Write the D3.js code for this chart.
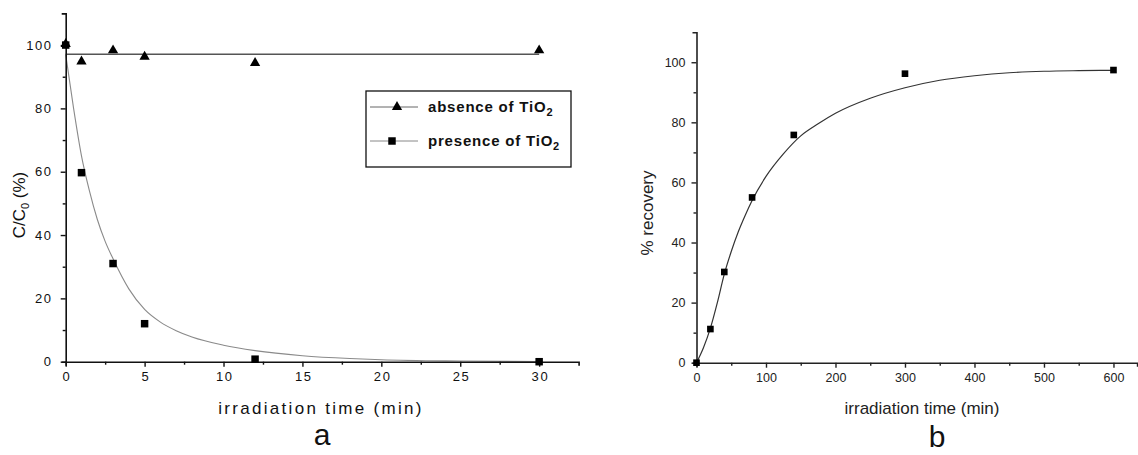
<!DOCTYPE html>
<html>
<head>
<meta charset="utf-8">
<script src="https://cdn.jsdelivr.net/npm/d3@7"></script>
<style>
    body { margin: 0; background: #fff; }
    text { font-family: "Liberation Sans", Arial, sans-serif; }
</style>
</head>
<body>
<svg id="chart" width="1138" height="455"></svg>
<script>
// panel a: decay of C/C0
const absenceTime = [0, 1, 3, 5, 12, 30];
const absenceC = [100, 94.5, 98, 96, 94, 98];
const presenceTime = [0, 1, 3, 5, 12, 30];
const presenceC = [100, 59.7, 31, 12, 0.8, 0];
const absenceFitTime = [0, 30];
const absenceFitC = [97.1, 97.1];
const presenceFitTime = [0, 0.5, 1, 1.5, 2, 2.5, 3, 4, 5, 6, 7, 8, 10, 12, 15, 18, 20, 25, 30];
const presenceFitC = [97, 80, 65, 54, 45, 38, 32.5, 23, 16.5, 12.5, 9.8, 7.8, 5.2, 3.5, 1.9, 1.0, 0.6, 0.2, 0.05];
const aXTicks = [0, 5, 10, 15, 20, 25, 30];
const aXMinor = [2.5, 7.5, 12.5, 17.5, 22.5, 27.5];
const aYTicks = [0, 20, 40, 60, 80, 100];
const aYMinor = [10, 30, 50, 70, 90];

// panel b: recovery
const recoveryTime = [0, 20, 40, 80, 140, 300, 600];
const recoveryPct = [0, 11.2, 30.2, 55, 75.8, 96.2, 97.4];
const recoveryFitTime = [0, 10, 20, 30, 40, 50, 60, 70, 80, 100, 125, 150, 175, 200, 250, 300, 350, 400, 450, 500, 550, 600];
const recoveryFitPct = [0, 5, 11.5, 20, 29.5, 37, 43.5, 49, 54, 62, 69.5, 75.5, 79.5, 83, 88, 91.5, 94, 95.5, 96.5, 97, 97.2, 97.3];
const bXTicks = [0, 100, 200, 300, 400, 500, 600];
const bXMinor = [50, 150, 250, 350, 450, 550];
const bYTicks = [0, 20, 40, 60, 80, 100];
const bYMinor = [10, 30, 50, 70, 90];

const drawAxes = (g, xScale, yScale, opt)=>{
    let height = yScale.range()[0];

    let xAxis = d3.axisBottom(xScale).tickValues(opt.xTicks).tickSize(5).tickSizeOuter(4).tickPadding(5);
    let xMinor = d3.axisBottom(xScale).tickValues(opt.xMinor).tickSize(3).tickFormat("");
    let yAxis = d3.axisLeft(yScale).tickValues(opt.yTicks).tickSize(5).tickSizeOuter(4).tickPadding(opt.yPad);
    let yMinor = d3.axisLeft(yScale).tickValues(opt.yMinor).tickSize(3).tickFormat("");

    let gx = g.append("g").attr("transform", "translate(0," + height + ")").call(xAxis);
    g.append("g").attr("transform", "translate(0," + height + ")").call(xMinor).select(".domain").remove();
    let gy = g.append("g").call(yAxis);
    g.append("g").call(yMinor).select(".domain").remove();

    g.selectAll(".domain").attr("stroke", opt.color).attr("stroke-width", 1.6);
    g.selectAll(".tick line").attr("stroke", opt.color).attr("stroke-width", 1.4);

    [gx, gy].forEach((a)=>{
        a.selectAll("text")
        .attr("font-size", opt.fontSize)
        .attr("fill", opt.color)
        .style("font-family", "'Liberation Sans', Arial, sans-serif")
        .style("letter-spacing", opt.spacing + "px");
    })
    gx.selectAll("text").attr("dx", (opt.spacing / 2) + "px");
}

const drawPanelA = ()=>{
    let svg = d3.select("#chart");
    let margin = { top: 13.4, left: 65.7 };
    let width = 512.9;
    let height = 348.3;

    let g = svg.append("g").attr("transform", "translate(" + margin.left + "," + margin.top + ")");

    let xScale = d3.scaleLinear().domain([0, 32.5]).range([0, width]);
    let yScale = d3.scaleLinear().domain([0, 110]).range([height, 0]);

    let line = d3.line()
    .x((d)=>xScale(d[0]))
    .y((d)=>yScale(d[1]))
    .curve(d3.curveMonotoneX);

    g.append("path")
    .datum(presenceFitTime.map((t, i)=>[t, presenceFitC[i]]))
    .attr("fill", "none")
    .attr("stroke", "#8a8a8a")
    .attr("stroke-width", 1.1)
    .attr("d", line);

    g.append("path")
    .datum(absenceFitTime.map((t, i)=>[t, absenceFitC[i]]))
    .attr("fill", "none")
    .attr("stroke", "#555")
    .attr("stroke-width", 1.4)
    .attr("d", line);

    drawAxes(g, xScale, yScale, {
        xTicks: aXTicks, xMinor: aXMinor, yTicks: aYTicks, yMinor: aYMinor,
        color: "#111", fontSize: "13px", spacing: 1.6, yPad: 8
    });

    let tri = d3.symbol().type(d3.symbolTriangle).size(46);
    let sq = d3.symbol().type(d3.symbolSquare).size(56);

    g.selectAll(".sq")
    .data(presenceTime.map((t, i)=>[t, presenceC[i]]))
    .enter().append("path")
    .attr("class", "sq")
    .attr("d", sq)
    .attr("fill", "#000")
    .attr("transform", (d)=>"translate(" + xScale(d[0]) + "," + yScale(d[1]) + ")");

    g.selectAll(".tri")
    .data(absenceTime.map((t, i)=>[t, absenceC[i]]))
    .enter().append("path")
    .attr("class", "tri")
    .attr("d", tri)
    .attr("fill", "#000")
    .attr("transform", (d)=>"translate(" + xScale(d[0]) + "," + (yScale(d[1]) - 1) + ")");

    // legend
    let lg = svg.append("g").attr("transform", "translate(366,91)");
    lg.append("rect")
    .attr("width", 205).attr("height", 76)
    .attr("fill", "#fff").attr("stroke", "#111").attr("stroke-width", 1.3);

    let entries = [
        { label: "absence of TiO", sym: tri, y: 16, stroke: "#666", mx: 31 },
        { label: "presence of TiO", sym: sq, y: 50, stroke: "#888", mx: 26 }
    ];
    entries.forEach((e)=>{
        lg.append("line")
        .attr("x1", 4).attr("x2", 52).attr("y1", e.y).attr("y2", e.y)
        .attr("stroke", e.stroke).attr("stroke-width", 1);
        lg.append("path")
        .attr("d", e.sym)
        .attr("fill", "#000")
        .attr("transform", "translate(" + e.mx + "," + e.y + ")");
        let t = lg.append("text")
        .attr("x", 62).attr("y", e.y + 5)
        .attr("font-size", "15px")
        .attr("font-weight", "bold")
        .style("letter-spacing", "0.8px")
        .attr("fill", "#111")
        .text(e.label);
        t.append("tspan").attr("dy", 4).attr("font-size", "11px").text("2");
    })

    svg.append("text")
    .attr("x", 321).attr("y", 414)
    .attr("text-anchor", "middle")
    .attr("font-size", "17px")
    .style("letter-spacing", "2.3px")
    .attr("fill", "#111")
    .text("irradiation time (min)");

    let yl = svg.append("text")
    .attr("transform", "translate(25,205) rotate(-90)")
    .attr("text-anchor", "middle")
    .attr("font-size", "17px")
    .attr("fill", "#111");
    yl.append("tspan").text("C/C");
    yl.append("tspan").attr("dy", 4).attr("font-size", "11px").text("0");
    yl.append("tspan").attr("dy", -4).text(" (%)");

    svg.append("text")
    .attr("x", 322).attr("y", 445)
    .attr("text-anchor", "middle")
    .attr("font-size", "30px")
    .attr("fill", "#111")
    .text("a");
}

const drawPanelB = ()=>{
    let svg = d3.select("#chart");
    let margin = { top: 32.2, left: 696.5 };
    let width = 440.6;
    let height = 330.5;

    let g = svg.append("g").attr("transform", "translate(" + margin.left + "," + margin.top + ")");

    let xScale = d3.scaleLinear().domain([0, 634]).range([0, width]);
    let yScale = d3.scaleLinear().domain([0, 110]).range([height, 0]);

    let line = d3.line()
    .x((d)=>xScale(d[0]))
    .y((d)=>yScale(d[1]))
    .curve(d3.curveMonotoneX);

    g.append("path")
    .datum(recoveryFitTime.map((t, i)=>[t, recoveryFitPct[i]]))
    .attr("fill", "none")
    .attr("stroke", "#333")
    .attr("stroke-width", 1.2)
    .attr("d", line);

    drawAxes(g, xScale, yScale, {
        xTicks: bXTicks, xMinor: bXMinor, yTicks: bYTicks, yMinor: bYMinor,
        color: "#222", fontSize: "12.5px", spacing: 0, yPad: 6
    });

    let sq = d3.symbol().type(d3.symbolSquare).size(44);
    g.selectAll(".sq")
    .data(recoveryTime.map((t, i)=>[t, recoveryPct[i]]))
    .enter().append("path")
    .attr("d", sq)
    .attr("fill", "#000")
    .attr("transform", (d)=>"translate(" + xScale(d[0]) + "," + yScale(d[1]) + ")");

    svg.append("text")
    .attr("x", 922).attr("y", 414)
    .attr("text-anchor", "middle")
    .attr("font-size", "17px")
    .attr("fill", "#222")
    .text("irradiation time (min)");

    svg.append("text")
    .attr("transform", "translate(653,213) rotate(-90)")
    .attr("text-anchor", "middle")
    .attr("font-size", "17px")
    .attr("fill", "#222")
    .text("% recovery");

    svg.append("text")
    .attr("x", 937).attr("y", 447)
    .attr("text-anchor", "middle")
    .attr("font-size", "30px")
    .attr("fill", "#111")
    .text("b");
}

window.onload = function(){
    drawPanelA();
    drawPanelB();
}
</script>
</body>
</html>
